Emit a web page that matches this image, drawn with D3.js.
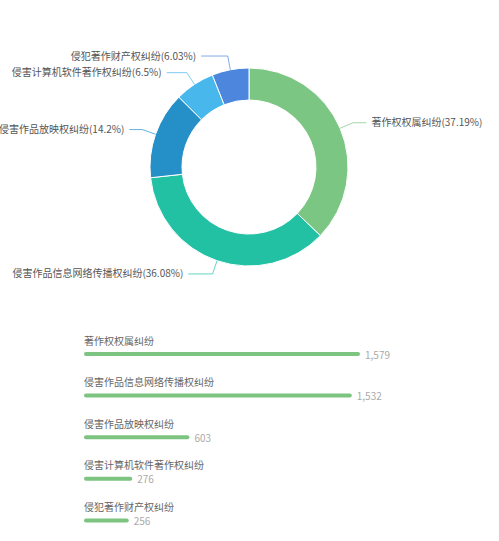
<!DOCTYPE html>
<html>
<head>
<meta charset="utf-8">
<script src="https://cdn.jsdelivr.net/npm/d3@7"></script>
<style>
  body { margin: 0; background: #fff; }
  text { font-family: "Noto Sans CJK SC", "Noto Sans", sans-serif; }
</style>
</head>
<body>
<svg id="chart" width="499" height="541"></svg>
<script>
// pie data
const pie_names = ["著作权权属纠纷", "侵害作品信息网络传播权纠纷", "侵害作品放映权纠纷", "侵害计算机软件著作权纠纷", "侵犯著作财产权纠纷"];
const pie_pcts = ["37.19%", "36.08%", "14.2%", "6.5%", "6.03%"];
const pie_values = [37.19, 36.08, 14.2, 6.5, 6.03];
const pie_colors = ["#7cc683", "#23c1a4", "#2590c8", "#48b8ec", "#4d87dd"];

// bar data
const bar_names = ["著作权权属纠纷", "侵害作品信息网络传播权纠纷", "侵害作品放映权纠纷", "侵害计算机软件著作权纠纷", "侵犯著作财产权纠纷"];
const bar_values = [1579, 1532, 603, 276, 256];
const bar_labels = ["1,579", "1,532", "603", "276", "256"];

const svg = d3.select("svg#chart");

// donut
const cx = 249, cy = 167;
const inner_r = 67, outer_r = 99;
const len1 = 14;

const pie = d3.pie().sort(null).value((d) => d.value);
const arcs = pie(pie_values.map((v, i) => ({ value: v, i: i })));
const arc = d3.arc().innerRadius(inner_r).outerRadius(outer_r);

const pie_group = svg.append("g").attr("transform", `translate(${cx}, ${cy})`);

pie_group.selectAll("path.slice")
  .data(arcs)
  .join("path")
  .attr("class", "slice")
  .attr("d", arc)
  .attr("fill", (d) => pie_colors[d.data.i])
  .attr("stroke", "#fff")
  .attr("stroke-width", 1);

// label lines + labels (longer second segment near the vertical axis)
arcs.forEach((d) => {
  const a = (d.startAngle + d.endAngle) / 2;
  const sx = Math.sin(a), sy = -Math.cos(a);
  const len2 = 12 + 18 * (1 - Math.abs(sx));
  const p1 = [sx * outer_r, sy * outer_r];
  const p2 = [sx * (outer_r + len1), sy * (outer_r + len1)];
  const dir = sx >= 0 ? 1 : -1;
  const p3 = [p2[0] + dir * len2, p2[1]];
  pie_group.append("polyline")
    .attr("points", [p1, p2, p3].map((p) => p.join(",")).join(" "))
    .attr("fill", "none")
    .attr("stroke", pie_colors[d.data.i])
    .attr("stroke-opacity", 0.7)
    .attr("stroke-width", 1);
  pie_group.append("text")
    .attr("x", p3[0] + dir * 5)
    .attr("y", p3[1])
    .attr("dy", "0.35em")
    .attr("text-anchor", dir > 0 ? "start" : "end")
    .attr("font-size", 10)
    .attr("fill", "#555")
    .text(`${pie_names[d.data.i]}(${pie_pcts[d.data.i]})`);
});

// bars
const bar_x0 = 84;
const x = d3.scaleLinear().domain([0, 1579]).range([0, 276]);
const y = d3.scaleBand().domain(d3.range(bar_values.length)).range([335, 543]);
const bar_h = 4;

const bar_group = svg.append("g");
bar_values.forEach((v, i) => {
  const top = y(i);
  bar_group.append("text")
    .attr("x", bar_x0)
    .attr("y", top + 6)
    .attr("dy", "0.35em")
    .attr("font-size", 10)
    .attr("fill", "#666")
    .text(bar_names[i]);
  bar_group.append("rect")
    .attr("x", bar_x0)
    .attr("y", top + 19 - bar_h / 2)
    .attr("width", x(v))
    .attr("height", bar_h)
    .attr("rx", bar_h / 2)
    .attr("fill", "#7cc47f");
  bar_group.append("text")
    .attr("x", bar_x0 + x(v) + 5)
    .attr("y", top + 20)
    .attr("dy", "0.35em")
    .attr("font-size", 10)
    .attr("fill", "#aaa")
    .text(bar_labels[i]);
});
</script>
</body>
</html>
